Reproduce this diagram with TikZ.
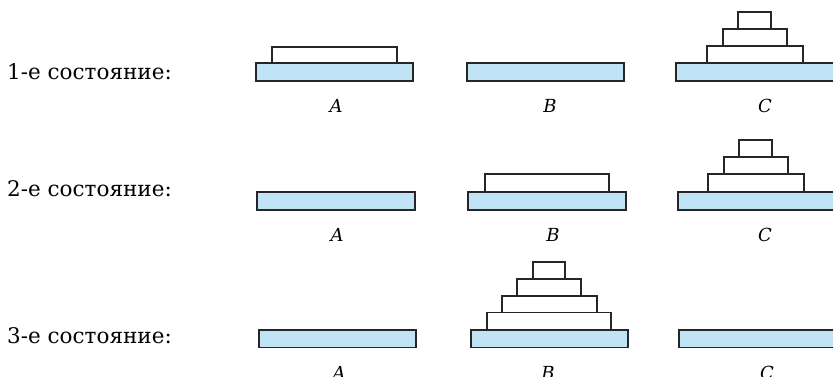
\documentclass[tikz,border=0pt]{standalone}
\usepackage{fontspec}
\setmainfont{DejaVu Serif}
\definecolor{basefill}{RGB}{192,228,245}
\begin{document}
\begin{tikzpicture}[x=1pt,y=-1pt,
  pegbase/.style={draw=black!85,line width=1.3pt,fill=basefill},
  disk/.style={draw=black!85,line width=1.3pt,fill=white},
  state/.style={anchor=base west,inner sep=0pt,font=\fontsize{21.5}{25}\selectfont},
  peg/.style={anchor=base,inner sep=0pt,font=\fontsize{18}{21}\selectfont\itshape}]
\useasboundingbox (0,0) rectangle (833,376);
\clip (0,0) rectangle (833,376);
% ---------- row 1
\node[state] (s1) at (7,79) {1-е состояние:};
\draw[pegbase] (256,63) rectangle (413,81);
\draw[disk] (272,47) rectangle (397,63);
\draw[pegbase] (467,63) rectangle (624,81);
\draw[pegbase] (676,63) rectangle (834,81);
\draw[disk] (707,46) rectangle (803,63);
\draw[disk] (723,29) rectangle (787,46);
\draw[disk] (738,12) rectangle (771,29);
\node[peg] (a1) at (336,112.5) {A};
\node[peg] (b1) at (550,112.5) {B};
\node[peg] (c1) at (765,112.5) {C};
% ---------- row 2
\node[state] (s2) at (7,196) {2-е состояние:};
\draw[pegbase] (257,192) rectangle (415,210);
\draw[pegbase] (468,192) rectangle (626,210);
\draw[disk] (485,174) rectangle (609,192);
\draw[pegbase] (678,192) rectangle (836,210);
\draw[disk] (708,174) rectangle (804,192);
\draw[disk] (724,157) rectangle (788,174);
\draw[disk] (739,140) rectangle (772,157);
\node[peg] (a2) at (337,241.5) {A};
\node[peg] (b2) at (553,241.5) {B};
\node[peg] (c2) at (765,241.5) {C};
% ---------- row 3
\node[state] (s3) at (7,343) {3-е состояние:};
\draw[pegbase] (259,330) rectangle (416,347.5);
\draw[pegbase] (471,330) rectangle (628,347.5);
\draw[disk] (487,312.5) rectangle (611,330);
\draw[disk] (502,296) rectangle (597,312.5);
\draw[disk] (517,279) rectangle (581,296);
\draw[disk] (533,262) rectangle (565,279);
\draw[pegbase] (679,330) rectangle (837,347.5);
\node[peg] (a3) at (339,379.5) {A};
\node[peg] (b3) at (548,379.5) {B};
\node[peg] (c3) at (767,379.5) {C};
\end{tikzpicture}
\end{document}
